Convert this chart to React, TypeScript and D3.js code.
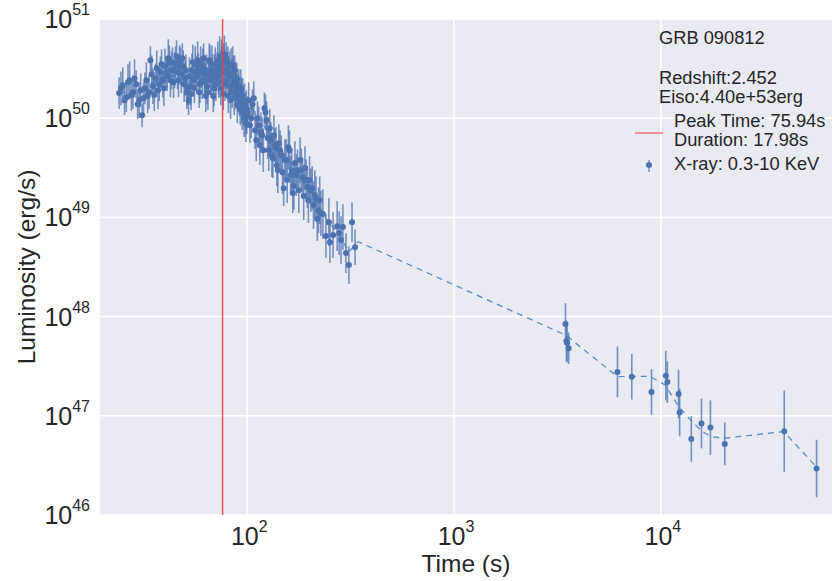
import * as d3 from "d3";

// GRB 090812 X-ray light curve (Swift XRT, 0.3-10 keV)
const earlyTime = [
  24, 25, 26, 27, 28, 29, 30, 31, 32, 33, 34, 35, 36, 37, 38, 39, 40, 41, 42, 43,
  44, 45, 46, 47, 48, 49, 50, 51, 52, 53, 54, 55, 56, 57, 58, 59, 60, 61, 62, 63,
  64, 65, 66, 67, 68, 69, 70, 71, 72, 73, 74, 75, 76, 77, 78, 79, 80, 81, 82, 83,
  84, 85, 86, 87, 88, 89, 90, 91, 92, 93, 94, 95, 96, 97, 98, 99,
];
const earlyLum = [
  1.79e50, 2.15e50, 1.63e50, 2.41e50, 1.83e50, 2.2e50, 1.52e50, 1.07e50, 2.0e50, 1.67e50,
  3.84e50, 2.1e50, 2.52e50, 1.91e50, 2.9e50, 2.41e50, 3.34e50, 2.65e50, 3.66e50, 3.04e50,
  2.31e50, 3.5e50, 2.9e50, 3.84e50, 2.77e50, 3.34e50, 2.52e50, 1.83e50, 1.52e50, 2.1e50,
  3.04e50, 2.41e50, 3.5e50, 2.65e50, 3.19e50, 2.2e50, 2.9e50, 3.34e50, 2.41e50, 1.67e50,
  2.1e50, 2.77e50, 3.66e50, 2.52e50, 3.04e50, 2.0e50, 3.5e50, 2.65e50, 3.84e50, 2.31e50,
  3.19e50, 4.22e50, 2.9e50, 3.66e50, 2.2e50, 4.03e50, 3.04e50, 1.67e50, 3.34e50, 1.52e50,
  2.77e50, 3.5e50, 2.31e50, 3.04e50, 1.91e50, 2.52e50, 1.75e50, 2.1e50, 1.52e50, 2.0e50,
  1.32e50, 1.67e50, 1.2e50, 1.45e50, 1.0e50, 1.26e50,
];
// symmetric error, in dex
const earlyErr = [
  0.16, 0.18, 0.15, 0.19, 0.17, 0.14, 0.18, 0.12, 0.16, 0.17, 0.14, 0.18, 0.15, 0.19, 0.16, 0.17, 0.18, 0.15, 0.17, 0.19,
  0.16, 0.18, 0.17, 0.15, 0.19, 0.16, 0.18, 0.17, 0.15, 0.19, 0.17, 0.16, 0.18, 0.17, 0.15, 0.19, 0.16, 0.18, 0.17, 0.16,
  0.18, 0.15, 0.17, 0.19, 0.16, 0.18, 0.17, 0.15, 0.19, 0.16, 0.18, 0.17, 0.15, 0.19, 0.17, 0.16, 0.18, 0.17, 0.15, 0.19,
  0.16, 0.18, 0.17, 0.15, 0.19, 0.16, 0.18, 0.17, 0.16, 0.19, 0.17, 0.18, 0.16, 0.19, 0.17, 0.18,
];

const earlyTimeB = [
  24.5, 25.5, 26.5, 27.5, 28.5, 29.5, 30.5, 31.5, 32.5, 33.5, 34.5, 35.5, 36.5, 37.5, 38.5, 39.5, 40.5, 41.5, 42.5, 43.5,
  44.5, 45.5, 46.5, 47.5, 48.5, 49.5, 50.5, 51.5, 52.5, 53.5, 54.5, 55.5, 56.5, 57.5, 58.5, 59.5, 60.5, 61.5, 62.5, 63.5,
  64.5, 65.5, 66.5, 67.5, 68.5, 69.5, 70.5, 71.5, 72.5, 73.5, 74.5, 75.5, 76.5, 77.5, 78.5, 79.5, 80.5, 81.5, 82.5, 83.5,
  84.5, 85.5, 86.5, 87.5, 88.5, 89.5, 90.5, 91.5, 92.5, 93.5, 94.5, 95.5, 96.5, 97.5, 98.5, 99.5,
];
const earlyLumB = [
  2.0e50, 1.52e50, 2.31e50, 1.71e50, 2.52e50, 1.38e50, 1.91e50, 1.59e50, 2.41e50, 1.83e50,
  2.77e50, 1.71e50, 3.19e50, 2.2e50, 3.5e50, 2.0e50, 2.9e50, 4.03e50, 2.41e50, 3.66e50,
  3.04e50, 4.22e50, 2.41e50, 3.34e50, 4.03e50, 2.2e50, 3.04e50, 2.0e50, 2.65e50, 1.75e50,
  3.66e50, 2.0e50, 2.9e50, 3.84e50, 1.83e50, 3.5e50, 2.31e50, 4.03e50, 2.77e50, 3.04e50,
  1.83e50, 3.84e50, 2.41e50, 3.5e50, 1.67e50, 2.9e50, 2.2e50, 3.19e50, 2.65e50, 4.22e50,
  2.0e50, 3.5e50, 1.75e50, 4.4e50, 2.9e50, 2.41e50, 3.66e50, 2.65e50, 2.1e50, 3.34e50,
  1.83e50, 2.77e50, 1.59e50, 2.41e50, 2.2e50, 1.38e50, 1.91e50, 1.67e50, 1.26e50, 1.67e50,
  1.15e50, 1.45e50, 1.0e50, 1.2e50, 9.1e49, 1.05e50,
];
const earlyErrB = [
  0.17, 0.15, 0.18, 0.16, 0.19, 0.15, 0.17, 0.16, 0.18, 0.17, 0.19, 0.16, 0.18, 0.17, 0.15, 0.18, 0.16, 0.19, 0.17, 0.15,
  0.18, 0.16, 0.17, 0.19, 0.15, 0.18, 0.16, 0.17, 0.19, 0.16, 0.18, 0.15, 0.17, 0.19, 0.16, 0.18, 0.17, 0.15, 0.19, 0.16,
  0.18, 0.17, 0.15, 0.19, 0.16, 0.18, 0.17, 0.16, 0.19, 0.2, 0.17, 0.18, 0.16, 0.19, 0.17, 0.18, 0.16, 0.19, 0.17, 0.18,
  0.16, 0.19, 0.17, 0.18, 0.16, 0.19, 0.17, 0.18, 0.17, 0.19, 0.18, 0.17, 0.19, 0.18, 0.2, 0.18,
];

const decayTime = [
  100, 103, 106, 109, 112, 115, 118, 121, 124, 127, 130, 133, 136, 139, 142, 146, 150, 154, 158, 162,
  166, 170, 175, 180, 185, 190, 195, 200, 206, 212, 218, 224, 227, 232, 240, 248, 251, 260, 272, 278,
  284, 290, 300, 310, 321, 332,
];
const decayLum = [
  1.15e50, 8.5e49, 1.38e50, 7.57e49, 1.0e50, 5.35e49, 6.74e49, 1.26e50, 9.55e49, 4.76e49,
  6.0e49, 3.95e49, 5.35e49, 3.36e49, 5.6e49, 4.24e49, 1.97e49, 3.78e49, 5.1e49, 2.67e49,
  1.76e49, 3.53e49, 2.99e49, 3.78e49, 2.54e49, 3.14e49, 2.02e49, 2.38e49, 1.97e49, 1.68e49,
  9.62e48, 1.49e49, 1.1e49, 1.08e49, 6.5e48, 8.95e48, 5.63e48, 6.64e48, 8.16e48, 6.95e48,
  5.91e48, 8.0e48, 4.37e48, 3.31e48, 8.95e48, 5.0e48,
];
const decayErr = [
  0.16, 0.18, 0.15, 0.19, 0.17, 0.2, 0.18, 0.16, 0.19, 0.21, 0.18, 0.2, 0.17, 0.21, 0.19, 0.2, 0.18, 0.21, 0.22, 0.19,
  0.2, 0.22, 0.21, 0.23, 0.2, 0.22, 0.21, 0.24, 0.22, 0.25, 0.22, 0.24, 0.23, 0.25, 0.22, 0.24, 0.21, 0.23, 0.25, 0.22,
  0.24, 0.23, 0.2, 0.19, 0.2, 0.18,
];

const decayTimeB = [
  101.5, 104.5, 107.5, 110.5, 113.5, 116.5, 119.5, 122.5, 125.5, 128.5, 131.5, 134.5, 137.5, 140.5, 144, 148, 152, 156,
  160, 164, 168, 172.5, 177.5, 182.5, 187.5, 192.5, 197.5, 203, 209, 215, 221,
];
const decayLumB = [
  1.52e50, 1.0e50, 1.59e50, 6.0e49, 8.5e49, 7.2e49, 4.76e49, 1.15e50, 6.3e49, 7.93e49, 4.24e49, 6.74e49, 4.99e49, 2.99e49,
  4.76e49, 2.85e49, 3.78e49, 2.38e49, 4.76e49, 2.99e49, 2.07e49, 2.67e49, 1.88e49, 2.99e49, 1.64e49, 2.38e49, 1.49e49,
  1.88e49, 1.33e49, 1.57e49, 1.18e49,
];
const decayErrB = [
  0.18, 0.2, 0.17, 0.21, 0.19, 0.2, 0.22, 0.18, 0.21, 0.19, 0.22, 0.2, 0.21, 0.23, 0.2, 0.22, 0.21, 0.23, 0.2, 0.22,
  0.24, 0.21, 0.23, 0.22, 0.24, 0.21, 0.23, 0.22, 0.24, 0.22, 0.23,
];

const lateTime = [
  3456, 3494, 3517, 3581, 6166, 7233, 9006, 10560, 10750, 12170, 12320, 14030, 15710, 17360, 20360, 39490, 56590,
];
const lateLum = [
  8.42e47, 5.68e47, 5.46e47, 4.8e47, 2.77e47, 2.48e47, 1.74e47, 2.54e47, 2.19e47, 1.66e47, 1.08e47, 5.85e46, 8.35e46,
  7.6e46, 5.21e46, 7.0e46, 2.94e46,
];
const lateErr = [0.21, 0.21, 0.2, 0.16, 0.257, 0.23, 0.23, 0.25, 0.21, 0.245, 0.24, 0.23, 0.25, 0.275, 0.215, 0.41, 0.29];

// dashed smoothed curve
const curveTime = [
  24, 30, 40, 50, 60, 75, 90, 110, 140, 180, 230, 280, 310, 343, 3470, 6166, 7255, 8831, 10470, 12180, 13890, 15850,
  17430, 20280, 39260, 56270,
];
const curveLum = [
  1.8e50, 1.9e50, 2.7e50, 2.6e50, 2.8e50, 3.0e50, 2.0e50, 1.1e50, 5.3e49, 2.6e49, 1.1e49, 6.5e48, 4.5e48, 5.7e48,
  6.5e47, 2.48e47, 2.5e47, 2.5e47, 2.05e47, 1.24e47, 9.1e46, 6.93e46, 6.18e46, 5.95e46, 6.93e46, 3.08e46,
];

const peakTime = 75.94;
const xTicks = [1e2, 1e3, 1e4];
const yTicks = [1e46, 1e47, 1e48, 1e49, 1e50, 1e51];
const legendInfo = ["GRB 090812", "Redshift:2.452", "Eiso:4.40e+53erg"];

const W = 832;
const H = 581;
const left = 100;
const right = 832;
const top = 19;
const bottom = 515;
const ink = "#262626";
const blue = "#4c72b0";
const font = "'Liberation Sans', Arial, sans-serif";

export default function App() {
  const x = d3.scaleLog().domain([19.4, 67200]).range([left, right]);
  const y = d3.scaleLog().domain([1e46, 1e51]).range([bottom, top]);

  const toPts = (ts: number[], ls: number[], es: number[]) => ts.map((t, i) => ({ t, l: ls[i], e: es[i] }));
  const points = [
    ...toPts(earlyTime, earlyLum, earlyErr),
    ...toPts(earlyTimeB, earlyLumB, earlyErrB),
    ...toPts(decayTime, decayLum, decayErr),
    ...toPts(decayTimeB, decayLumB, decayErrB),
    ...toPts(lateTime, lateLum, lateErr),
  ];
  const curve = d3
    .line<number>()
    .x((t) => x(t))
    .y((_, i) => y(curveLum[i]))(curveTime);

  return (
    <svg width={W} height={H} style={{ position: "absolute", left: 0, top: 0 }} fontFamily={font}>
      <rect x={0} y={0} width={W} height={H} fill="white" />
      <rect x={left} y={top} width={right - left} height={bottom - top} fill="#eaeaf2" />
      {xTicks.map((t) => (
        <line key={t} x1={x(t)} x2={x(t)} y1={top} y2={bottom} stroke="white" strokeWidth={1.5} />
      ))}
      {yTicks.map((v) => (
        <line key={v} x1={left} x2={right} y1={y(v)} y2={y(v)} stroke="white" strokeWidth={1.5} />
      ))}

      <path d={curve ?? ""} fill="none" stroke="#5387c6" strokeWidth={1.2} strokeDasharray="6,5" />

      <g stroke={blue} strokeWidth={1.6} strokeOpacity={0.75}>
        {points.map((p, i) => (
          <line
            key={i}
            x1={x(p.t)}
            x2={x(p.t)}
            y1={y(p.l * Math.pow(10, p.e))}
            y2={y(p.l / Math.pow(10, p.e))}
          />
        ))}
      </g>
      <g fill={blue}>
        {points.map((p, i) => (
          <circle key={i} cx={x(p.t)} cy={y(p.l)} r={3} />
        ))}
      </g>

      <line x1={x(peakTime)} x2={x(peakTime)} y1={top} y2={bottom} stroke="#f03c3c" strokeWidth={1.5} strokeOpacity={0.85} />

      {/* y ticks */}
      {yTicks.map((v) => (
        <text key={v} x={90} y={y(v) + 9} textAnchor="end" fontSize={25} fill={ink}>
          10
          <tspan dy={-13} fontSize={16}>
            {Math.round(Math.log10(v))}
          </tspan>
        </text>
      ))}
      {/* x ticks */}
      {xTicks.map((t) => (
        <text key={t} x={x(t) + 2} y={545} textAnchor="middle" fontSize={25} fill={ink}>
          10
          <tspan dy={-13} fontSize={16}>
            {Math.round(Math.log10(t))}
          </tspan>
        </text>
      ))}

      <text x={(left + right) / 2} y={572} textAnchor="middle" fontSize={24.5} fill={ink}>
        Time (s)
      </text>
      <text transform={`translate(35,${(top + bottom) / 2}) rotate(-90)`} textAnchor="middle" fontSize={24.5} fill={ink}>
        Luminosity (erg/s)
      </text>

      {/* legend */}
      <g fontSize={18.3} fill={ink}>
        <text x={659} y={44}>{legendInfo[0]}</text>
        <text x={659} y={84}>{legendInfo[1]}</text>
        <text x={659} y={103}>{legendInfo[2]}</text>
        <text x={674} y={127}>Peak Time: {peakTime.toFixed(2)}s</text>
        <text x={674} y={146}>Duration: 17.98s</text>
        <text x={674} y={170}>X-ray: 0.3-10 KeV</text>
      </g>
      <line x1={635} x2={663} y1={133} y2={133} stroke="#f03c3c" strokeWidth={1.2} strokeOpacity={0.85} />
      <line x1={649} x2={649} y1={160} y2={172} stroke={blue} strokeWidth={1.5} strokeOpacity={0.75} />
      <circle cx={649} cy={165} r={3} fill={blue} />
    </svg>
  );
}
